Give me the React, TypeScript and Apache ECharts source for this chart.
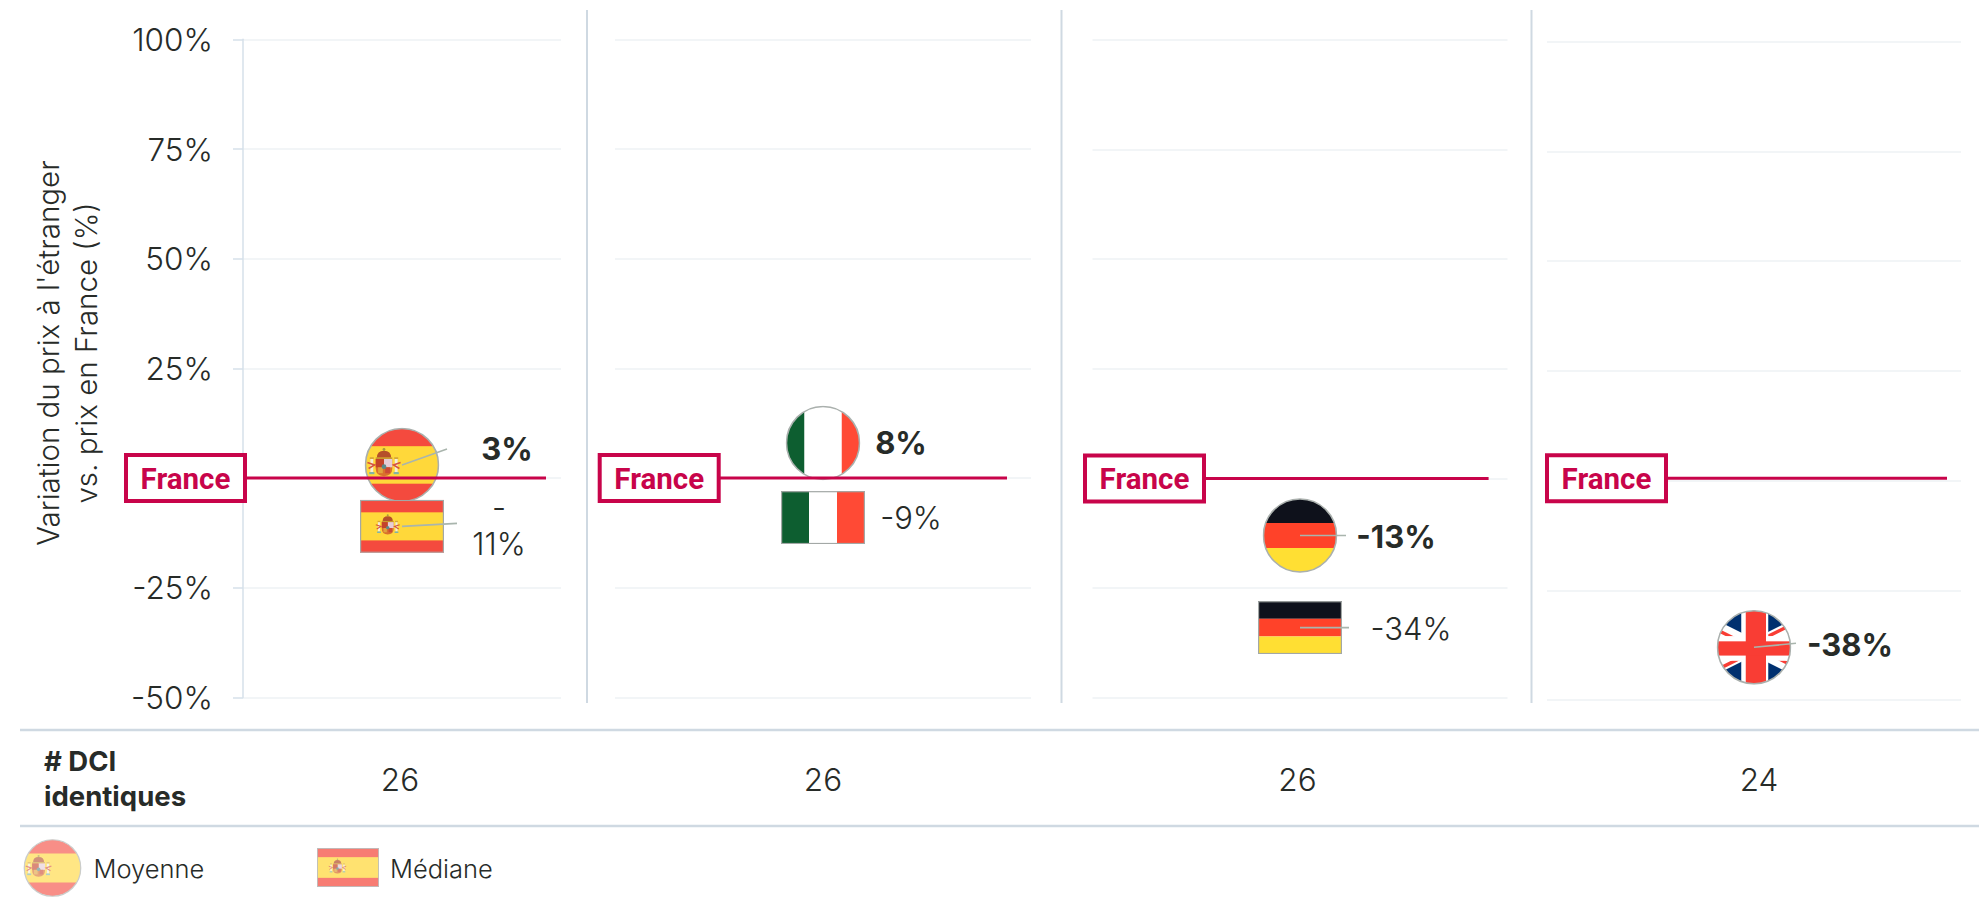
import React, { useEffect, useRef } from "react";
import * as echarts from "echarts";

const countries = ["es", "it", "de", "gb"];
const dciCounts = [26, 26, 26, 24];
const moyenne = [3, 8, -13, -38];
const mediane: (number | null)[] = [-11, -9, -34, null];
const yTicks = { min: -50, max: 100, interval: 25 };
const yAxisTitle = "Variation du prix à l'étranger\nvs. prix en France (%)";
const dciTitle = "# DCI\nidentiques";
const referenceLabel = "France";
const legendLabels = ["Moyenne", "Médiane"];

const FONT = "Inter, 'Noto Sans', sans-serif";
const BOLD_FONT = "Roboto, Inter, sans-serif";
const INK = "#272b28";
const RED = "#c8044a";
const RULE = "#cfd9e2";
const GRID = "#eef2f5";
const LEADER = "#a9b5ad";

const grids = [
  { left: 243, width: 318, top: 39.3, height: 658.2 },
  { left: 615, width: 416, top: 39.3, height: 658.2 },
  { left: 1092.5, width: 415, top: 39.8, height: 658 },
  { left: 1547, width: 414, top: 41.6, height: 658.4 },
];
const dciX = [400, 823, 1297.5, 1759];
const separatorsX = [587, 1061.5, 1531.5];
const franceLayout = [
  { box: 124, end: 546, dy: 0 },
  { box: 597.7, end: 1007, dy: 0 },
  { box: 1083, end: 1488.6, dy: 0 },
  { box: 1545, end: 1947, dy: -2.3 },
];
const meanLayout = [
  { lx: 45, ly: -16, tx: 105, ty: -16 },
  { lx: 0, ly: 0, tx: 78, ty: 0 },
  { lx: 46, ly: 0, tx: 96, ty: 1 },
  { lx: 42, ly: -4, tx: 96, ty: -3 },
];
const medianLayout = [
  { lx: 55, ly: -3, tx: 97, ty: -1 },
  { lx: 0, ly: 0, tx: 88, ty: 0 },
  { lx: 49, ly: 0, tx: 111, ty: 1 },
];

const arms = (cx: number, cy: number, k: number) => `
<g transform="translate(${cx} ${cy}) scale(${k})">
  <path d="M-6 -6Q-6 -12 0 -12Q6 -12 6 -6Z" fill="#b5502a"/>
  <circle cx="0" cy="-13" r="1.2" fill="#a89a3a"/>
  <rect x="-7" y="-6.4" width="14" height="1.4" fill="#c99a2e"/>
  <path d="M-7 -5H7V3Q7 9 0 9.6Q-7 9 -7 3Z" fill="#d9702c"/>
  <rect x="0" y="-5" width="7" height="7" fill="#e6cdd6"/>
  <rect x="-7" y="-5" width="7" height="7" fill="#c4432a"/>
  <rect x="-5" y="2" width="4" height="5" fill="#e0a23c"/>
  <rect x="1" y="2" width="4" height="5" fill="#cc4a34"/>
  <circle cx="0" cy="1.5" r="2" fill="#5c8a8a"/>
  <rect x="-11.5" y="-5" width="2.4" height="11" fill="#f3ecd9"/>
  <rect x="9.1" y="-5" width="2.4" height="11" fill="#f3ecd9"/>
  <rect x="-12" y="-6.5" width="3.4" height="1.5" fill="#d6a53a"/>
  <rect x="8.6" y="-6.5" width="3.4" height="1.5" fill="#d6a53a"/>
  <path d="M-14 -2L-8 0L-13 3" fill="none" stroke="#d6533f" stroke-width="1.3"/>
  <path d="M14 -2L8 0L13 3" fill="none" stroke="#d6533f" stroke-width="1.3"/>
  <rect x="-12.5" y="6" width="4.4" height="1.8" fill="#7fb3a8"/>
  <rect x="8.1" y="6" width="4.4" height="1.8" fill="#7fb3a8"/>
</g>`;

const flagBody = (code: string, w: number, h: number, round: boolean) => {
  if (code === "es") {
    const band = round ? 0.25 : 0.235;
    return `<rect width="${w}" height="${h}" fill="#f44a3e"/><rect y="${h * band}" width="${w}" height="${h * (1 - 2 * band)}" fill="#ffd83a"/>${arms(w * (round ? 0.26 : 0.33), h * 0.5, round ? 1.2 : 0.85)}`;
  }
  if (code === "it") {
    const a = round ? 0.25 : 1 / 3;
    const b = round ? 0.75 : 2 / 3;
    return `<rect width="${w}" height="${h}" fill="#fff"/><rect width="${w * a}" height="${h}" fill="#0d5e30"/><rect x="${w * b}" width="${w * (1 - b)}" height="${h}" fill="#ff4a35"/>`;
  }
  if (code === "de") {
    return `<rect width="${w}" height="${h / 3}" fill="#0e111b"/><rect y="${h / 3}" width="${w}" height="${h / 3}" fill="#ff4229"/><rect y="${(2 * h) / 3}" width="${w}" height="${h / 3 + 0.5}" fill="#ffdf33"/>`;
  }
  return `<rect width="${w}" height="${h}" fill="#00306f"/>
  <path d="M-38 0L114 76M114 0L-38 76" stroke="#fff" stroke-width="15"/>
  <path d="M-38 1L38 39M38 37L114 75M38 34L114 -4M38 42L-38 80" stroke="#f93d34" stroke-width="3.5"/>
  <rect x="${w * 0.33}" width="${w * 0.36}" height="${h}" fill="#fff"/><rect y="${h * 0.35}" width="${w}" height="${h * 0.33}" fill="#fff"/>
  <rect x="${w * 0.39}" width="${w * 0.27}" height="${h}" fill="#f93d34"/><rect y="${h * 0.42}" width="${w}" height="${h * 0.19}" fill="#f93d34"/>`;
};

const toUri = (svg: string) => "data:image/svg+xml;charset=utf-8," + encodeURIComponent(svg);

const roundFlag = (code: string) =>
  toUri(`<svg xmlns="http://www.w3.org/2000/svg" width="76" height="76" viewBox="0 0 76 76"><defs><clipPath id="c"><circle cx="38" cy="38" r="37"/></clipPath></defs><g clip-path="url(#c)">${flagBody(code, 76, 76, true)}</g><circle cx="38" cy="38" r="37" fill="none" stroke="#aab0ad" stroke-width="1.6"/></svg>`);

const rectFlag = (code: string) =>
  toUri(`<svg xmlns="http://www.w3.org/2000/svg" width="84" height="53" viewBox="0 0 84 53">${flagBody(code, 84, 53, false)}<rect x="0.6" y="0.6" width="82.8" height="51.8" fill="none" stroke="#a3a8a6" stroke-width="1.2"/></svg>`);

const flagSeries = (
  name: string,
  panel: number,
  value: number,
  image: string,
  size: [number, number],
  layout: { lx: number; ly: number; tx: number; ty: number },
  text: string,
  weight: number,
) => ({
  type: "custom",
  name,
  xAxisIndex: panel,
  yAxisIndex: panel,
  clip: false,
  z: 3,
  data: [[0, value]],
  encode: { x: 0, y: 1 },
  renderItem: (_: any, api: any) => {
    const [cx, cy] = api.coord([api.value(0), api.value(1)]);
    return {
      type: "group",
      children: [
        { type: "image", style: { image, x: cx - size[0] / 2, y: cy - size[1] / 2, width: size[0], height: size[1] } },
        ...(layout.lx
          ? [{
              type: "line",
              shape: { x1: cx, y1: cy, x2: cx + layout.lx, y2: cy + layout.ly },
              style: { stroke: LEADER, lineWidth: 1.6 },
            }]
          : []),
        {
          type: "text",
          style: {
            text,
            x: cx + layout.tx,
            y: cy + layout.ty,
            align: "center",
            verticalAlign: "middle",
            fontFamily: FONT,
            fontSize: 31,
            fontWeight: weight,
            lineHeight: 36,
            fill: INK,
          },
        },
      ],
    };
  },
});

const franceSeries = (panel: number) => ({
  type: "custom",
  name: referenceLabel,
  xAxisIndex: panel,
  yAxisIndex: panel,
  clip: false,
  z: 4,
  data: [[0, 0]],
  encode: { x: 0, y: 1 },
  renderItem: (_: any, api: any) => {
    const y = api.coord([0, api.value(1)])[1] + franceLayout[panel].dy;
    const { box, end } = franceLayout[panel];
    return {
      type: "group",
      children: [
        { type: "line", shape: { x1: box + 120, y1: y, x2: end, y2: y }, style: { stroke: RED, lineWidth: 3 } },
        {
          type: "rect",
          shape: { x: box + 2, y: y - 23, width: 119, height: 46 },
          style: { fill: "#fff", stroke: RED, lineWidth: 4 },
        },
        {
          type: "text",
          style: {
            text: referenceLabel,
            x: box + 61.5,
            y: y + 0.5,
            align: "center",
            verticalAlign: "middle",
            fontFamily: BOLD_FONT,
            fontSize: 29.5,
            fontWeight: 700,
            fill: RED,
          },
        },
      ],
    };
  },
});

export default function App() {
  const ref = useRef<HTMLDivElement>(null);
  useEffect(() => {
    document.body.style.margin = "0";
    const chart = echarts.init(ref.current!, null, { renderer: "svg" });
    const series: any[] = [];
    countries.forEach((code, i) => {
      series.push(
        flagSeries(legendLabels[0], i, moyenne[i], roundFlag(code), [75, 75], meanLayout[i], `${moyenne[i]}%`, 700),
      );
      const med = mediane[i];
      if (med !== null) {
        const label = i === 0 ? `-\n${Math.abs(med)}%` : `${med}%`;
        series.push(flagSeries(legendLabels[1], i, med, rectFlag(code), [84, 53], medianLayout[i], label, 300));
      }
      series.push(franceSeries(i));
    });
    const textStyle = { fontFamily: FONT, fill: INK };
    chart.setOption({
      animation: false,
      backgroundColor: "#fff",
      grid: grids.map((g) => ({ ...g, containLabel: false, outerBoundsMode: "none" })),
      xAxis: grids.map((_, i) => ({
        type: "category",
        gridIndex: i,
        data: [String(dciCounts[i])],
        show: false,
      })),
      yAxis: grids.map((_, i) => ({
        type: "value",
        gridIndex: i,
        ...yTicks,
        axisLine: { show: i === 0, lineStyle: { color: "#d6e0ea", width: 1.5 } },
        axisTick: { show: i === 0, length: 10, lineStyle: { color: "#d6e0ea", width: 1.5 } },
        axisLabel: {
          show: i === 0,
          margin: 30,
          fontFamily: FONT,
          fontWeight: 300,
          fontSize: 31.5,
          color: INK,
          formatter: (v: number) => (v === 0 ? "" : `${v}%`),
        },
        splitLine: { show: true, lineStyle: { color: GRID, width: 1.5 } },
      })),
      series,
      graphic: [
        {
          type: "text",
          x: 67,
          y: 353,
          rotation: Math.PI / 2,
          style: {
            ...textStyle,
            text: yAxisTitle,
            align: "center",
            verticalAlign: "middle",
            fontSize: 29.5,
            fontWeight: 300,
            lineHeight: 38,
          },
        },
        ...separatorsX.map((x) => ({
          type: "line",
          shape: { x1: x, y1: 10, x2: x, y2: 703 },
          style: { stroke: RULE, lineWidth: 2 },
        })),
        { type: "line", shape: { x1: 20, y1: 730, x2: 1979, y2: 730 }, style: { stroke: RULE, lineWidth: 2.4 } },
        { type: "line", shape: { x1: 20, y1: 826, x2: 1979, y2: 826 }, style: { stroke: RULE, lineWidth: 2.4 } },
        {
          type: "text",
          style: { ...textStyle, text: dciTitle, x: 44, y: 778, verticalAlign: "middle", fontSize: 27.5, fontWeight: 700, lineHeight: 35 },
        },
        ...dciCounts.map((n, i) => ({
          type: "text",
          style: { ...textStyle, text: String(n), x: dciX[i], y: 779, align: "center", verticalAlign: "middle", fontSize: 31.5, fontWeight: 300 },
        })),
        { type: "image", style: { image: roundFlag("es"), x: 23, y: 839, width: 59, height: 58, opacity: 0.62 } },
        { type: "text", style: { ...textStyle, text: legendLabels[0], x: 93.5, y: 868, verticalAlign: "middle", fontSize: 25.5, fontWeight: 300 } },
        { type: "image", style: { image: rectFlag("es"), x: 317, y: 848, width: 62, height: 39, opacity: 0.72 } },
        { type: "text", style: { ...textStyle, text: legendLabels[1], x: 390, y: 868, verticalAlign: "middle", fontSize: 25.5, fontWeight: 300 } },
      ],
    });
    return () => chart.dispose();
  }, []);
  return <div ref={ref} style={{ position: "absolute", left: 0, top: 0, width: 1979, height: 897 }} />;
}
